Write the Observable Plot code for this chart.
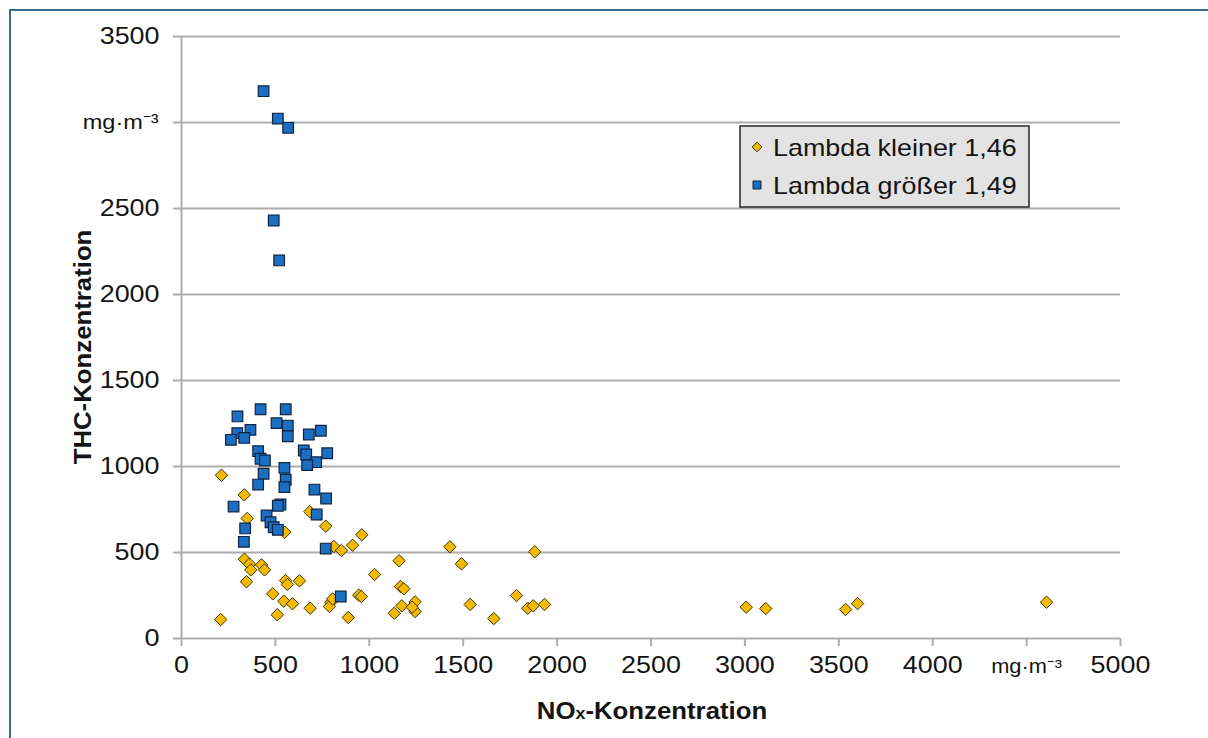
<!DOCTYPE html>
<html>
<head>
<meta charset="utf-8">
<script src="https://cdn.jsdelivr.net/npm/d3@7"></script>
<script src="https://cdn.jsdelivr.net/npm/@observablehq/plot@0.6"></script>
<style>
  html, body { margin: 0; padding: 0; background: #ffffff; }
  #wrap { position: relative; width: 1208px; height: 738px; overflow: hidden; }
  #frame {
    position: absolute; left: 9px; top: 9px; width: 1300px; height: 800px;
    border-left: 2px solid #3a6f88; border-top: 2px solid #3a6f88;
    pointer-events: none;
  }
  #chart { position: absolute; left: 0; top: 0; }
</style>
</head>
<body>
<div id="wrap">
  <div id="frame"></div>
  <div id="chart"></div>
</div>
<script>
// NOx / THC concentrations in mg·m⁻³, one pair of arrays per lambda range
const lowLambdaNOx = [209, 213, 334, 350, 683, 550, 768, 960, 911, 811, 852, 335, 362, 426, 442, 369, 346, 554, 564, 628,
  1028, 486, 545, 591, 685, 795, 788, 805, 944, 958, 510, 888, 1159, 1166, 1184, 1133, 1429, 1881, 1491, 1784,
  1173, 1244, 1244, 1228, 1537, 1663, 1844, 1873, 1933, 3007, 3111, 3536, 3600, 4606];
const lowLambdaTHC = [110, 949, 835, 698, 737, 618, 653, 603, 542, 535, 512, 461, 432, 428, 399, 399, 330, 337, 314, 335,
  372, 260, 217, 202, 176, 211, 186, 230, 252, 244, 138, 122, 452, 302, 289, 147, 533, 504, 434, 250,
  190, 213, 157, 182, 198, 116, 176, 190, 198, 182, 174, 169, 203, 211];

const highLambdaNOx = [437, 513, 568, 491, 520, 421, 555, 298, 367, 506, 566, 566, 297, 263, 334, 678, 742, 408, 421, 444,
  651, 664, 776, 717, 669, 437, 548, 408, 555, 548, 708, 770, 277, 527, 513, 720, 453, 474, 491, 513,
  339, 332, 768, 848];
const highLambdaTHC = [3182, 3023, 2969, 2430, 2198, 1333, 1333, 1291, 1213, 1252, 1238, 1176, 1194, 1155, 1166, 1186, 1208, 1089, 1045, 1035,
  1093, 1070, 1077, 1025, 1008, 958, 992, 895, 923, 880, 866, 814, 767, 779, 772, 721, 715, 676, 647, 632,
  640, 562, 523, 244];

const seriesNames = ["Lambda kleiner 1,46", "Lambda größer 1,49"];
const xTicks = [0, 500, 1000, 1500, 2000, 2500, 3000, 3500, 4000, 4500, 5000];
const yTicks = [0, 500, 1000, 1500, 2000, 2500, 3000, 3500];
const unitLabel = "mg·m⁻³";
const xUnitTick = 4500;
const yUnitTick = 3000;
const xTitle = ["NO", "x", "-Konzentration"];
const yTitle = "THC-Konzentration";

const low = lowLambdaNOx.map((v, i) => ({nox: v, thc: lowLambdaTHC[i]}));
const high = highLambdaNOx.map((v, i) => ({nox: v, thc: highLambdaTHC[i]}));

const gridColor = "#adadad";
const textColor = "#141414";
const yellow = "#f4ba00", yellowEdge = "#3f3408";
const blue = "#1b6fc2", blueEdge = "#0f2440";

const svg = Plot.plot({
  width: 1208,
  height: 738,
  marginLeft: 181,
  marginRight: 88,
  marginTop: 36,
  marginBottom: 100,
  style: {fontFamily: "'Liberation Sans', Arial, sans-serif", fontSize: "24px", color: textColor, background: "transparent", overflow: "visible"},
  x: {domain: [0, 5000]},
  y: {domain: [0, 3500]},
  marks: [
    Plot.ruleY(yTicks, {stroke: gridColor, strokeWidth: 2}),
    Plot.ruleX([0], {stroke: gridColor, strokeWidth: 2}),
    Plot.axisY({ticks: yTicks, tickSize: 8, tickPadding: 14, stroke: gridColor, strokeWidth: 2, fill: textColor,
      tickFormat: d => d === yUnitTick ? "" : String(d), label: null, fontSize: 24}),
    Plot.axisX({ticks: xTicks, tickSize: 8, tickPadding: 9, stroke: gridColor, strokeWidth: 2, fill: textColor,
      tickFormat: d => d === xUnitTick ? "" : String(d), label: null, fontSize: 24}),
    Plot.text([{x: 0, y: yUnitTick}], {x: "x", y: "y", text: () => unitLabel, textAnchor: "end", dx: -23, fontSize: 21, fill: textColor}),
    Plot.text([{x: xUnitTick, y: 0}], {x: "x", y: "y", text: () => unitLabel, dy: 28, fontSize: 19.5, fill: textColor}),
    Plot.dot(low, {x: "nox", y: "thc", symbol: "diamond2", r: 5.6, fill: yellow, stroke: yellowEdge, strokeWidth: 1}),
    Plot.dot(high, {x: "nox", y: "thc", symbol: "square", r: 6, fill: blue, stroke: blueEdge, strokeWidth: 1.2})
  ]
});

document.getElementById("chart").append(svg);

const root = d3.select(svg);
const fontFamily = "'Liberation Sans', Arial, sans-serif";

// axis titles
const xt = root.append("text")
  .attr("x", 652).attr("y", 719)
  .attr("text-anchor", "middle")
  .attr("font-family", fontFamily)
  .attr("font-weight", "bold")
  .attr("font-size", 23)
  .attr("fill", textColor);
xt.append("tspan").text(xTitle[0]);
xt.append("tspan").attr("font-size", 16).text(xTitle[1]);
xt.append("tspan").text(xTitle[2]);

root.append("text")
  .attr("transform", "translate(91,347) rotate(-90)")
  .attr("text-anchor", "middle")
  .attr("font-family", fontFamily)
  .attr("font-weight", "bold")
  .attr("font-size", 23)
  .attr("fill", textColor)
  .text(yTitle);

// legend box
const lg = root.append("g").attr("transform", "translate(740,126)").attr("text-anchor", "start");
lg.append("rect").attr("width", 289).attr("height", 81)
  .attr("fill", "#e3e3e3").attr("stroke", "#262626").attr("stroke-width", 1.5);
const entries = [
  {name: seriesNames[0], sym: d3.symbolDiamond2, size: 60, fill: yellow, edge: yellowEdge},
  {name: seriesNames[1], sym: d3.symbolSquare, size: 64, fill: blue, edge: blueEdge}
];
entries.forEach((e, i) => {
  const cy = 21 + i * 38;
  lg.append("path").attr("d", d3.symbol(e.sym, e.size)())
    .attr("transform", `translate(17,${cy})`)
    .attr("fill", e.fill).attr("stroke", e.edge).attr("stroke-width", 1);
  lg.append("text").attr("x", 33).attr("y", cy + 9)
    .attr("text-anchor", "start")
    .attr("font-family", fontFamily).attr("font-size", 24).attr("fill", textColor)
    .text(e.name);
});

// widen the lettering slightly, keeping each label anchored in place
svg.querySelectorAll("text").forEach(t => {
  const len = t.getComputedTextLength();
  if (len > 0) {
    t.setAttribute("textLength", (len * 1.12).toFixed(1));
    t.setAttribute("lengthAdjust", "spacingAndGlyphs");
  }
});
</script>
</body>
</html>
